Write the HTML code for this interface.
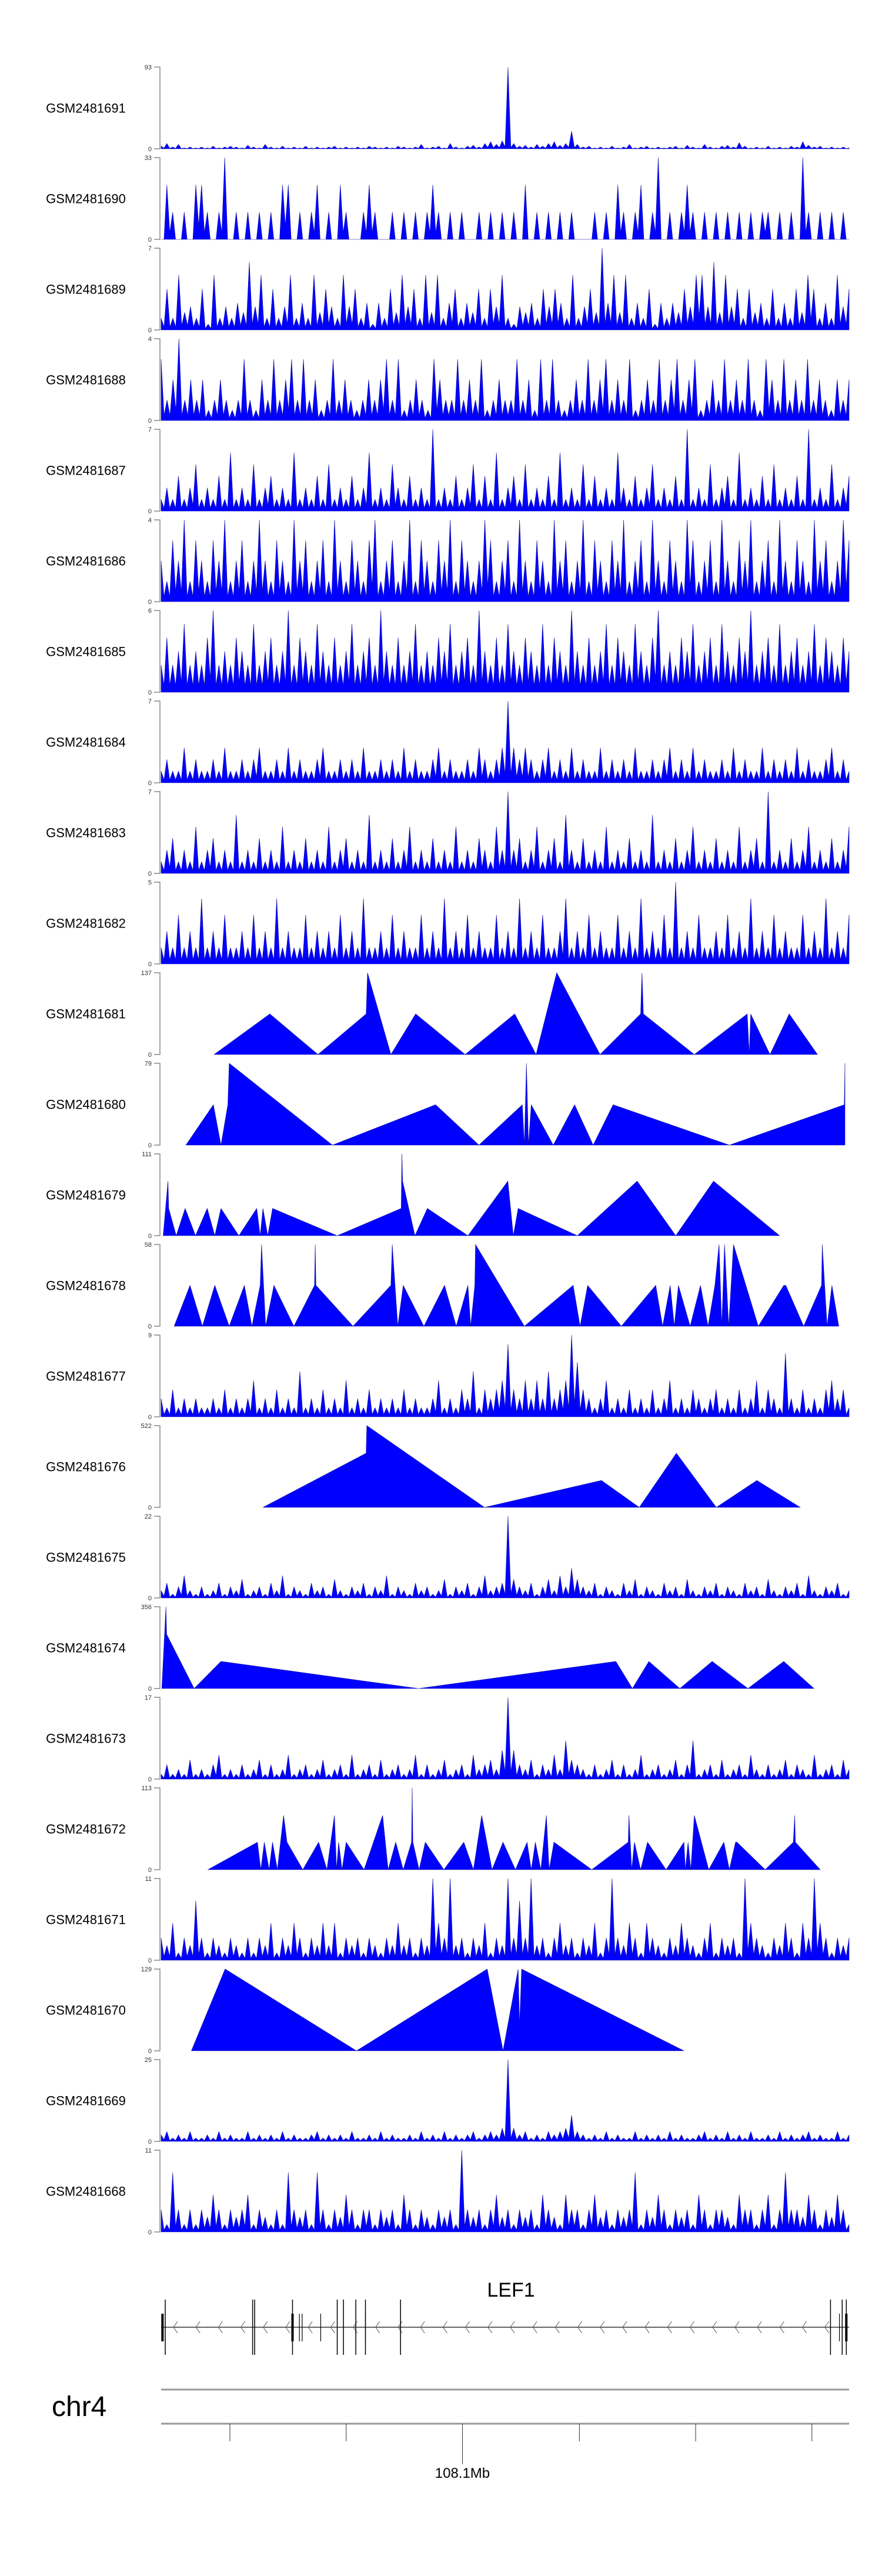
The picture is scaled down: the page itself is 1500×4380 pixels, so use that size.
<!DOCTYPE html>
<html><head><meta charset="utf-8">
<style>
html,body{margin:0;padding:0;background:#fff;}
svg{display:block;}
text{font-family:"Liberation Sans",Arial,sans-serif;}
</style></head>
<body>
<svg id="fig" width="1500" height="4380" viewBox="0 0 1500 4380" xmlns="http://www.w3.org/2000/svg"></svg>
<script>
// ---------- data ----------
const trackNames=["GSM2481691","GSM2481690","GSM2481689","GSM2481688","GSM2481687","GSM2481686","GSM2481685","GSM2481684","GSM2481683","GSM2481682","GSM2481681","GSM2481680","GSM2481679","GSM2481678","GSM2481677","GSM2481676","GSM2481675","GSM2481674","GSM2481673","GSM2481672","GSM2481671","GSM2481670","GSM2481669","GSM2481668"];
const trackMax=[93,33,7,4,7,4,6,7,7,5,137,79,111,58,9,522,22,356,17,113,11,129,25,11];

// evenly spaced signal tracks
const s1691=[3,6,2,5,1,2,1,2,1,3,1,2,3,2,1,4,2,1,5,2,1,3,1,2,1,3,1,2,1,2,3,1,2,1,2,1,3,2,1,2,1,3,2,1,2,5,1,2,3,1,6,2,1,3,4,2,6,8,5,9,93,6,3,4,2,5,3,6,8,4,6,20,5,2,3,1,2,1,3,1,2,5,1,2,3,1,2,1,2,3,1,4,2,1,5,2,1,3,4,2,7,3,1,2,1,3,1,2,1,3,2,8,4,2,3,1,2,1,2,1];
const s1690=[0,22,11,0,11,0,22,22,11,0,11,33,0,11,0,11,0,11,0,11,0,22,22,0,11,0,11,22,0,11,0,22,11,0,0,11,22,11,0,0,11,0,11,0,11,0,11,22,11,0,11,0,11,0,0,11,0,11,0,11,0,11,0,22,0,11,0,11,0,11,0,11,0,0,0,11,0,11,0,22,11,0,11,22,0,11,33,0,11,0,11,22,11,0,11,0,11,0,11,0,11,0,11,0,11,11,0,11,0,11,0,33,11,0,11,0,11,0,11,0];
const s1689=[1,3.5,1,4.7,1.5,2,1,3.5,0.5,4.7,1,2,1,2.3,1.5,5.8,2,4.7,1,3.5,1,2,4.7,1,2.3,1,4.7,1.5,3.5,2,1,4.7,2,3.5,1,2.3,0.5,2.3,1,3.5,1.5,4.7,2,3.5,1,4.7,1.5,4.7,1,2.3,3.5,1,2.3,1.5,3.5,1,3.5,2,4.7,1,0.5,2,1.5,2.3,1,3.5,2,3.5,2.3,1,4.7,1,2,3.5,1.5,7,2.3,4.7,1.5,4.7,1,2.3,1,3.5,0.5,2.3,1,2.3,1.5,3.5,2,4.7,4.7,2,5.8,1.5,4.7,2,3.5,1,3.5,1.5,2.3,1,3.5,1,2.3,1,3.5,1.5,4.7,3.5,1,2.3,1,4.7,2,3.5];
const s1688=[3,1,2,4,1,2,1,2,0.5,1,2,1,0.5,1,3,1,0.5,2,1,3,1,2,3,1,3,1,2,0.5,1,3,1,2,1,0.5,1,2,1,2,3,1,3,0.5,1,2,1,0.5,3,2,1,1,3,1,2,1,3,0.5,1,2,1,1,3,1,2,0.5,3,1,3,1,0.5,1,2,1,3,1,2,3,1,2,1,3,0.5,1,2,1,3,1,2,3,1,2,3,0.5,1,2,1,3,1,2,1,3,1,0.5,3,2,1,3,1,2,1,3,1,2,1,0.5,2,1,2];
const s1687=[1,2,1,3,1,2,4,1,2,1,3,1,5,1,2,1,4,1,2,3,1,2,1,5,1,2,1,3,1,4,1,2,1,3,1,2,5,1,2,1,4,2,1,3,1,2,1,7,1,2,1,3,1,2,4,1,3,1,5,1,2,3,1,4,1,2,1,3,1,5,1,2,1,4,1,3,1,2,1,5,2,1,3,1,2,4,1,2,1,3,1,7,1,2,1,4,1,2,3,1,5,1,2,1,3,1,4,1,2,1,3,1,7,1,2,1,4,1,2,3];
const s1686=[2,1,3,2,4,1,3,2,1,3,2,4,1,2,3,1,2,4,2,1,3,2,1,4,2,3,1,2,3,1,4,2,1,3,2,1,3,4,1,2,3,1,2,4,1,3,2,1,3,2,4,1,3,2,1,2,4,3,1,2,3,1,4,2,1,3,2,1,4,2,3,1,2,4,1,3,2,1,3,2,4,1,2,3,1,4,2,1,3,2,1,4,3,1,2,3,1,4,2,1,3,2,4,1,2,3,1,4,2,1,3,2,1,4,2,3,1,2,4,3];
const s1685=[2,4,2,3,5,2,3,2,4,6,2,3,2,4,3,2,5,2,3,4,2,3,6,2,4,3,2,5,3,2,4,2,3,5,2,3,4,2,6,3,2,4,2,3,5,2,3,2,4,3,5,2,3,4,2,6,3,2,4,2,5,3,2,4,3,2,5,2,4,3,2,6,3,2,4,2,3,5,2,4,3,2,5,3,2,4,6,2,3,2,4,3,5,2,3,4,2,5,3,2,4,3,6,2,3,4,2,5,2,3,4,2,3,5,2,4,3,2,4,3];
const s1684=[1,2,1,1,3,1,2,1,1,2,1,3,1,1,2,1,2,3,1,1,2,1,3,1,2,1,1,2,3,1,1,2,1,2,1,3,1,1,2,1,2,1,3,1,2,1,1,2,3,1,2,1,1,2,1,3,2,1,2,3,7,3,2,3,2,1,2,3,1,2,1,3,1,2,1,1,3,1,2,1,2,1,3,1,1,2,1,2,3,1,2,1,3,1,2,1,1,2,1,3,1,2,1,1,3,1,2,1,2,1,3,1,2,1,1,2,3,1,2,1];
const s1683=[1,2,3,1,2,1,4,1,2,3,1,2,1,5,1,2,1,3,1,2,1,4,1,2,1,3,1,2,1,4,1,2,3,1,2,1,5,1,2,1,3,1,2,4,1,2,1,3,1,2,1,4,1,2,1,3,2,1,4,2,7,2,3,1,2,4,1,2,3,1,5,2,1,3,1,2,1,4,1,2,1,3,1,2,1,5,1,2,1,3,1,2,4,1,2,1,3,1,2,1,4,1,2,3,1,7,1,2,1,3,1,2,4,1,2,1,3,1,2,4];
const s1682=[1,2,1,3,1,2,1,4,1,2,1,3,1,1,2,1,3,1,2,1,4,1,2,1,1,3,1,2,1,2,1,3,1,2,1,4,1,1,2,1,3,1,2,1,1,3,1,2,1,4,1,2,1,3,1,2,1,1,3,1,2,1,4,1,2,1,3,1,1,2,4,1,2,1,3,1,2,1,1,3,1,2,1,4,1,2,1,3,1,5,1,2,1,3,1,1,2,1,3,1,2,1,4,1,2,1,3,1,2,1,1,3,1,2,1,4,1,2,1,3];
const s1677=[2,1,3,1,2,1,2,1,1,2,1,3,1,2,1,2,4,1,2,1,3,1,2,1,5,1,2,1,3,1,2,1,4,1,2,1,3,1,2,1,2,1,3,1,2,1,1,2,4,1,2,1,3,2,5,1,3,2,3,4,8,3,2,4,2,4,2,5,2,3,4,9,6,3,2,1,2,4,1,2,1,3,1,2,1,3,1,2,4,1,2,1,3,2,1,2,3,1,2,1,3,1,2,4,1,3,2,1,7,2,1,3,1,2,1,3,4,2,3,1];
const s1675=[2,4,1,3,6,2,1,3,1,2,4,1,3,2,5,1,2,3,1,4,2,6,1,3,2,1,4,2,3,1,5,2,1,3,2,4,1,3,2,6,1,3,2,1,4,2,3,1,2,5,1,3,2,4,1,3,6,2,3,4,22,5,3,2,4,1,3,5,2,6,3,8,5,3,2,4,1,3,2,1,4,2,5,1,3,2,1,4,2,3,1,5,2,1,3,2,4,1,3,2,1,4,2,3,1,5,2,1,3,2,4,1,6,2,1,3,2,4,1,2];
const s1673=[1,3,1,2,1,4,1,2,1,3,5,1,2,1,3,1,2,4,1,3,1,2,5,1,2,3,1,2,4,1,2,3,1,5,1,2,3,1,4,1,2,3,1,2,5,1,3,1,2,4,1,2,3,1,5,2,3,4,2,6,17,6,3,2,4,1,3,2,5,2,8,4,3,2,1,3,1,2,4,1,3,1,2,5,1,2,3,1,2,4,1,3,8,1,2,3,1,4,1,2,3,1,5,2,1,3,1,2,4,1,3,2,1,5,1,2,3,1,4,2];
const s1671=[3,2,5,1,3,2,8,3,1,3,2,1,3,2,1,3,1,3,2,5,1,3,2,5,3,1,3,2,5,2,5,1,3,2,3,1,3,2,1,3,2,5,2,3,1,3,2,11,5,3,11,2,3,1,3,2,5,1,3,2,11,3,8,3,11,2,3,1,3,5,2,3,1,3,2,5,1,3,11,3,2,5,3,1,5,3,2,1,3,2,5,3,2,1,3,5,1,3,2,3,1,11,5,3,2,1,3,2,5,3,1,5,3,11,5,3,1,3,2,3];
const s1669=[2,3,1,2,1,3,1,1,2,1,3,1,2,1,1,3,1,2,1,2,1,3,1,2,1,1,2,3,1,2,1,2,1,3,1,1,2,1,3,1,2,1,1,2,1,3,1,2,1,3,1,2,1,2,3,1,2,3,2,4,25,4,2,3,1,2,1,3,2,3,4,8,3,2,1,2,1,3,1,2,1,1,3,1,2,1,2,1,3,1,2,1,1,2,3,1,2,1,3,1,2,1,3,1,1,2,1,3,1,2,1,2,3,1,2,1,1,3,1,2];
const s1668=[3,1,8,3,1,3,1,3,2,5,3,1,3,2,3,5,1,3,2,1,3,1,8,3,2,3,1,8,3,1,3,2,5,3,1,3,3,1,3,2,3,1,5,3,1,3,2,1,3,2,3,1,11,3,2,3,1,3,5,2,3,1,3,2,3,1,5,3,2,1,5,3,3,1,3,5,2,3,1,3,2,3,8,1,3,2,5,3,1,3,2,3,1,5,3,1,3,3,2,1,5,3,3,1,3,5,1,3,8,3,3,2,5,3,1,3,2,5,3,1];

// sparse point tracks: genomic position (0..1000) and value
const p1681=[77,158,228,298,300,334,370,442,514,545,575,638,697,699,701,775,852,855,857,885,913,954];
const v1681=[0,68,0,68,137,0,68,0,68,0,137,0,68,137,68,0,68,0,68,0,68,0];
const p1680=[36,76,87,97,99,249,399,462,525,528,531,534,538,570,601,628,657,826,993,994];
const v1680=[0,39,0,39,79,0,39,0,39,0,79,0,39,0,39,0,39,0,39,79];
const p1679=[3,10,11,22,35,50,67,78,87,113,139,144,148,155,162,256,349,350,351,369,387,446,504,512,519,605,692,748,803,899];
const v1679=[0,74,37,0,37,0,37,0,37,0,37,0,37,0,37,0,37,111,74,0,37,0,74,0,37,0,74,0,74,0];
const p1678=[19,42,60,78,99,121,132,144,146,152,164,193,223,224,225,279,334,336,344,352,382,412,429,446,450,456,457,528,599,609,620,669,719,729,740,746,752,769,784,795,805,811,815,819,825,832,868,905,908,934,960,961,968,975,985];
const v1678=[0,29,0,29,0,29,0,29,58,0,29,0,29,58,29,0,29,58,0,29,0,29,0,29,0,29,58,0,29,0,29,0,29,0,29,0,29,0,29,0,29,58,0,58,0,58,0,29,29,0,29,58,0,29,0];
const p1676=[148,298,299,470,640,695,749,807,866,929];
const v1676=[0,346,522,0,172,0,346,0,172,0];
const p1674=[1,7,8,48,87,374,661,685,709,754,801,853,905,949];
const v1674=[0,356,236,0,118,0,118,0,118,0,118,0,118,0];
const p1672=[68,140,145,150,157,162,169,178,183,206,229,241,252,255,258,263,269,295,322,330,341,352,364,365,366,375,384,411,440,454,466,481,497,515,532,538,544,552,560,564,571,626,679,680,684,688,697,707,734,760,762,766,770,775,796,818,826,835,837,878,919,921,922,958];
const v1672=[0,38,0,38,0,38,0,75,38,0,38,0,75,0,38,0,38,0,75,0,38,0,38,113,38,0,38,0,38,0,75,0,38,0,38,0,38,0,75,0,38,0,38,75,0,38,0,38,0,38,0,38,0,75,0,38,0,38,38,0,38,75,38,0];
const p1670=[44,93,284,474,497,519,521,524,760];
const v1670=[0,129,0,129,0,129,40,129,0];

// gene model (positions 0..1000)
const exonTall=[6,133,136,191,256,265,283,297,348,973,990,996];
const exonThick=[2,191,996];
const exonShort=[201,205,232,297,986];
const axisTicks=[100,269,438,608,777,946];
const axisTickLabels={438:"108.1Mb"};

// ---------- drawing ----------
const NS="http://www.w3.org/2000/svg";
const svg=document.getElementById('fig');
const X0=274,X1=1444;
function xScale(d){return X0+(d/1000)*(X1-X0);}
function mk(tag,attrs,parent){const e=document.createElementNS(NS,tag);for(const k in attrs)e.setAttribute(k,attrs[k]);(parent||svg).appendChild(e);return e;}

const evenData={0:s1691,1:s1690,2:s1689,3:s1688,4:s1687,5:s1686,6:s1685,7:s1684,8:s1683,9:s1682,14:s1677,16:s1675,18:s1673,20:s1671,22:s1669,23:s1668};
const pointData={10:[p1681,v1681],11:[p1680,v1680],12:[p1679,v1679],13:[p1678,v1678],15:[p1676,v1676],17:[p1674,v1674],19:[p1672,v1672],21:[p1670,v1670]};

const TOP0=114,PITCH=154,H=139;
trackNames.forEach((name,i)=>{
  const top=TOP0+PITCH*i, bot=top+H, mx=trackMax[i];
  const g=mk('g',{});
  
  
  const lab=mk('text',{x:146,y:top+H/2+8,'font-size':22,'text-anchor':'middle',fill:'#000'},g);
  lab.textContent=name;
  
  
  const ax=mk('path',{d:`M262 ${top}H272V${bot}H262`,fill:'none',stroke:'#888','stroke-width':1.5},g);
  
  
  const t1=mk('text',{x:258,y:top+4,'font-size':11,'text-anchor':'end',fill:'#333'},g);
  t1.textContent=String(mx);
  
  
  const t0=mk('text',{x:258,y:bot+4,'font-size':11,'text-anchor':'end',fill:'#333'},g);
  t0.textContent='0';
  
  
  const y=v=>bot-(v/mx)*H;
  let d;
  if(evenData[i]){
    const val=evenData[i], n=val.length;
    const px=k=>xScale(k/(n-1)*1000);
    d=`M${px(0).toFixed(1)} ${bot}`;
    for(let k=0;k<n;k++){
      d+=`L${px(k).toFixed(1)} ${y(val[k]).toFixed(1)}`;
      if(k<n-1){
        const vm=Math.min(val[k],val[k+1])*0.25;
        d+=`L${((px(k)+px(k+1))/2).toFixed(1)} ${y(vm).toFixed(1)}`;
      }
    }
    d+=`L${px(n-1).toFixed(1)} ${bot}Z`;
  } else {
    const pos=pointData[i][0], val=pointData[i][1];
    d=`M${xScale(pos[0]).toFixed(1)} ${bot}`;
    for(let k=0;k<pos.length;k++)d+=`L${xScale(pos[k]).toFixed(1)} ${y(val[k]).toFixed(1)}`;
    d+=`L${xScale(pos[pos.length-1]).toFixed(1)} ${bot}Z`;
  }
  const area=mk('path',{d:d,fill:'#0000ff',stroke:'#1010a0','stroke-width':0.6,'stroke-linejoin':'miter'},g);
  
  
});

// gene track
const gg=mk('g',{});


const gl=mk('text',{x:869,y:3905,'font-size':34,'text-anchor':'middle',fill:'#000'},gg);
gl.textContent='LEF1';


const GY=3957;
const gline=mk('line',{x1:X0,x2:X1,y1:GY,y2:GY,stroke:'#333','stroke-width':1.5},gg);


for(let x=295;x<1440;x+=38.2){
  const ch=mk('path',{d:`M${x+7} ${GY-10}L${x} ${GY}L${x+7} ${GY+10}`,fill:'none',stroke:'#555','stroke-width':1},gg);
  
  
}
exonTall.forEach(p=>{
  const l=mk('line',{x1:xScale(p),x2:xScale(p),y1:3910,y2:4004,stroke:'#000','stroke-width':1.5},gg);
  
  
});
exonThick.forEach(p=>{
  const r=mk('rect',{x:xScale(p)-2,y:3934,width:4,height:47,fill:'#000'},gg);
  
  
});
exonShort.forEach(p=>{
  const l=mk('line',{x1:xScale(p),x2:xScale(p),y1:3934,y2:3981,stroke:'#000','stroke-width':1.2},gg);
  
  
});

// genome axis
const ga=mk('g',{});


const chr=mk('text',{x:88,y:4108,'font-size':48,fill:'#000'},ga);
chr.textContent='chr4';


const l1=mk('line',{x1:X0,x2:X1,y1:4063,y2:4063,stroke:'#999','stroke-width':3},ga);


const l2=mk('line',{x1:X0,x2:X1,y1:4121,y2:4121,stroke:'#999','stroke-width':3},ga);


axisTicks.forEach(p=>{
  const long=axisTickLabels[p]!==undefined;
  const t=mk('line',{x1:xScale(p),x2:xScale(p),y1:4121,y2:long?4190:4151,stroke:'#333','stroke-width':1},ga);
  
  
  if(long){
    const tx=mk('text',{x:xScale(p),y:4213,'font-size':24,'text-anchor':'middle',fill:'#000'},ga);
    tx.textContent=axisTickLabels[p];
    
    
  }
});
</script>
</body></html>
